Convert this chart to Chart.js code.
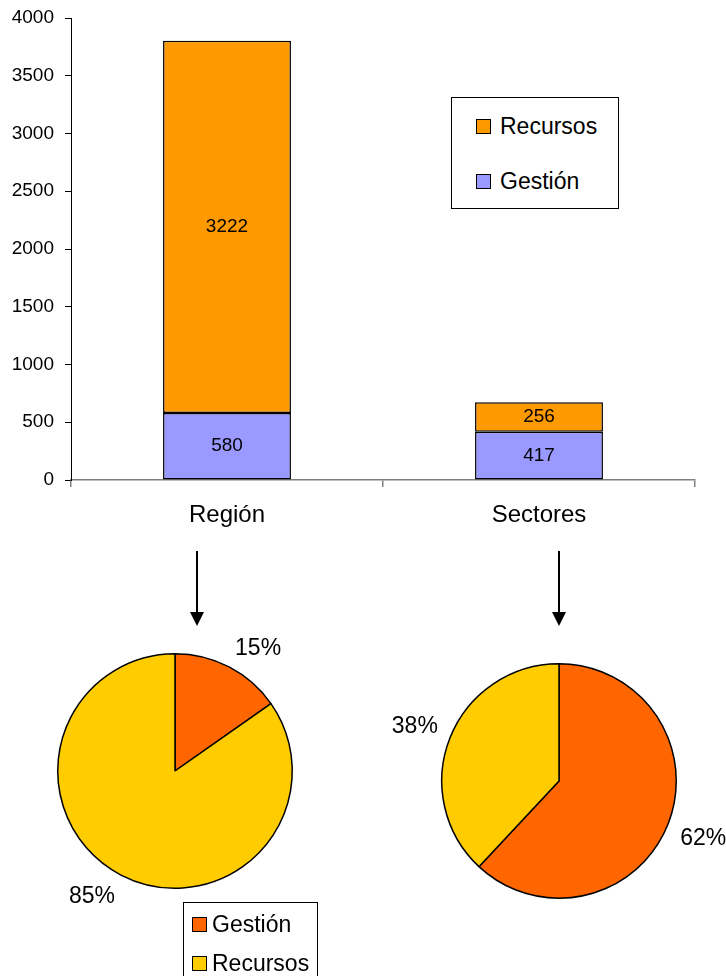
<!DOCTYPE html>
<html>
<head>
<meta charset="utf-8">
<script src="https://cdn.jsdelivr.net/npm/chart.js@4.4.0/dist/chart.umd.min.js"></script>
<style>
    body {
        margin: 0;
        width: 726px;
        height: 976px;
        overflow: hidden;
        background: #fff;
        position: relative;
        font-family: "Liberation Sans", Arial, sans-serif;
    }
    canvas, .legendBox, svg { position: absolute; }
    .legendBox { border: 1px solid #000; background: #fff; box-sizing: border-box; }
    .legendRow { position: absolute; display: flex; align-items: center; height: 30px; font-size: 23px; color: #000; white-space: nowrap; }
    .legendRow span.sq { display: inline-block; width: 15px; height: 15px; border: 1px solid #000; box-sizing: border-box; }
</style>
</head>
<body>
<canvas id="barChart" width="726" height="540" style="left:0;top:0"></canvas>
<canvas id="pieRegion" width="320" height="320" style="left:15px;top:611px"></canvas>
<canvas id="pieSectores" width="350" height="320" style="left:379px;top:621px"></canvas>

<svg width="726" height="976" style="left:0;top:0;pointer-events:none">
    <line x1="197" y1="551" x2="197" y2="614" stroke="#000" stroke-width="2"/>
    <polygon points="190,612 204,612 197,626" fill="#000"/>
    <line x1="559" y1="551" x2="559" y2="614" stroke="#000" stroke-width="2"/>
    <polygon points="552,612 566,612 559,626" fill="#000"/>
</svg>

<div id="barLegend" class="legendBox" style="left:451px;top:97px;width:168px;height:112px"></div>
<div id="pieLegend" class="legendBox" style="left:183px;top:902px;width:135px;height:90px"></div>

<script>
// datos
const categories = ['Región', 'Sectores'];
const gestion = [580, 417];
const recursos = [3222, 256];
const yTicks = [0, 500, 1000, 1500, 2000, 2500, 3000, 3500, 4000];

const barColors = { gestion: '#9999FF', recursos: '#FF9900' };
const pieColors = { gestion: '#FF6600', recursos: '#FFCC00' };

const fontFamily = '"Liberation Sans", Arial, sans-serif';

// valores dentro de las barras
const barValues = {
    id: 'barValues',
    afterDatasetsDraw: function (chart) {
        const ctx = chart.ctx;
        ctx.save();
        ctx.font = '19px ' + fontFamily;
        ctx.fillStyle = '#000';
        ctx.textAlign = 'center';
        ctx.textBaseline = 'middle';
        chart.data.datasets.forEach(function (ds, i) {
            chart.getDatasetMeta(i).data.forEach(function (bar, j) {
                ctx.fillText(ds.data[j], bar.x, (bar.y + bar.base) / 2);
            });
        });
        ctx.restore();
    }
};

// porcentajes fuera de las tortas: la esquina mas cercana del texto queda sobre el radio medio
const pieLabels = {
    id: 'pieLabels',
    afterDatasetsDraw: function (chart) {
        const ctx = chart.ctx;
        const data = chart.data.datasets[0].data;
        const total = data.reduce(function (a, b) { return a + b; }, 0);
        const size = 23;
        const capHeight = size * 0.716;
        ctx.save();
        ctx.font = size + 'px ' + fontFamily;
        ctx.fillStyle = '#000';
        ctx.textBaseline = 'alphabetic';
        chart.getDatasetMeta(0).data.forEach(function (arc, i) {
            const mid = (arc.startAngle + arc.endAngle) / 2;
            const r = arc.outerRadius + 13;
            const cx = Math.cos(mid), cy = Math.sin(mid);
            const x = arc.x + cx * r;
            const y = arc.y + cy * r;
            ctx.textAlign = cx >= 0 ? 'left' : 'right';
            const baseY = cy >= 0 ? y + capHeight : y;
            ctx.fillText(Math.round(data[i] / total * 100) + '%', x, baseY);
        });
        ctx.restore();
    }
};

new Chart(document.getElementById('barChart'), {
    type: 'bar',
    data: {
        labels: categories,
        datasets: [
            {
                label: 'Gestión',
                data: gestion,
                backgroundColor: barColors.gestion,
                borderColor: '#000',
                borderWidth: 1.5,
                borderSkipped: false,
                categoryPercentage: 1,
                barPercentage: 0.41
            },
            {
                label: 'Recursos',
                data: recursos,
                backgroundColor: barColors.recursos,
                borderColor: '#000',
                borderWidth: 1.5,
                borderSkipped: false,
                categoryPercentage: 1,
                barPercentage: 0.41
            }
        ]
    },
    plugins: [barValues],
    options: {
        responsive: false,
        animation: false,
        layout: { padding: { top: 18, right: 31, left: 0, bottom: 0 } },
        plugins: {
            legend: { display: false },
            tooltip: { enabled: false }
        },
        scales: {
            x: {
                stacked: true,
                grid: { drawOnChartArea: false, color: '#808080', tickLength: 7, offset: true, lineWidth: 1.5 },
                border: { color: '#808080', width: 1.5 },
                ticks: { color: '#000', font: { size: 24, family: fontFamily }, padding: 14 },
                afterFit: function (scale) { scale.height = 60; }
            },
            y: {
                stacked: true,
                min: yTicks[0],
                max: yTicks[yTicks.length - 1],
                afterBuildTicks: function (scale) {
                    scale.ticks = yTicks.map(function (v) { return { value: v }; });
                },
                grid: { drawOnChartArea: false, color: '#000', tickLength: 6 },
                border: { color: '#000', width: 1 },
                ticks: {
                    color: '#000',
                    font: { size: 19, family: fontFamily },
                    padding: 11,
                    callback: function (value) { return String(value); }
                },
                afterFit: function (scale) {
                    scale.width = 71;
                    scale.paddingTop = 0;
                    scale.paddingBottom = 0;
                }
            }
        }
    }
});

function makePie(id, idx, padding) {
    new Chart(document.getElementById(id), {
        type: 'pie',
        data: {
            labels: ['Gestión', 'Recursos'],
            datasets: [{
                data: [gestion[idx], recursos[idx]],
                backgroundColor: [pieColors.gestion, pieColors.recursos],
                borderColor: '#000',
                borderWidth: 1.5,
                hoverOffset: 0,
                offset: 0
            }]
        },
        plugins: [pieLabels],
        options: {
            responsive: false,
            animation: false,
            layout: { padding: padding },
            plugins: {
                legend: { display: false },
                tooltip: { enabled: false }
            }
        }
    });
}

makePie('pieRegion', 0, 42);
makePie('pieSectores', 1, { left: 62, right: 52, top: 42, bottom: 42 });

// leyendas
function makeLegend(id, items, left, gap, rowTops) {
    const box = document.getElementById(id);
    items.forEach(function (item, i) {
        const row = document.createElement('div');
        row.className = 'legendRow';
        row.style.left = left + 'px';
        row.style.top = rowTops[i] + 'px';
        row.style.gap = gap + 'px';
        const sq = document.createElement('span');
        sq.className = 'sq';
        sq.style.background = item.color;
        const txt = document.createElement('span');
        txt.textContent = item.label;
        row.appendChild(sq);
        row.appendChild(txt);
        box.appendChild(row);
    });
}

makeLegend('barLegend', [
    { label: 'Recursos', color: barColors.recursos },
    { label: 'Gestión', color: barColors.gestion }
], 24, 9, [13, 68]);

makeLegend('pieLegend', [
    { label: 'Gestión', color: pieColors.gestion },
    { label: 'Recursos', color: pieColors.recursos }
], 8, 5, [6, 45]);
</script>
</body>
</html>
